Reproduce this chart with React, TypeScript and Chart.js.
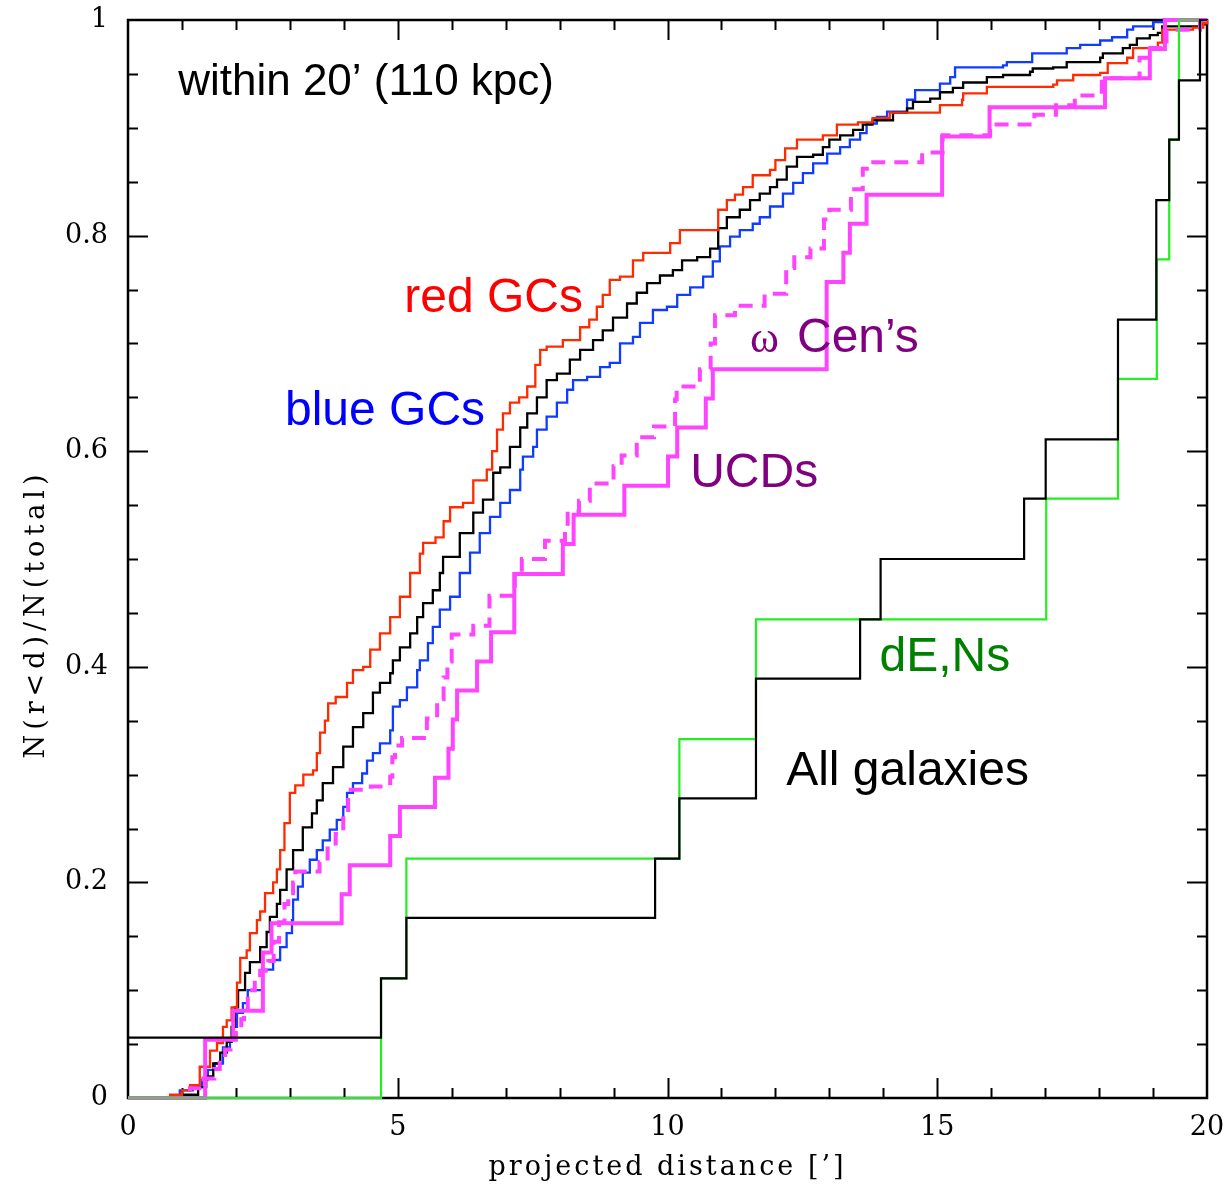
import React, { useEffect, useRef } from 'react';
import { Chart, registerables } from 'chart.js';

Chart.register(...registerables);

// ---- series: [projected distance (arcmin), cumulative fraction] ----
const redGCs: [number, number][] = [
  [0, 0], [0.78, 0.003], [1.0, 0.007], [1.15, 0.012], [1.33, 0.029], [1.52, 0.044], [1.65, 0.051], [1.76, 0.066],
  [1.83, 0.072], [1.92, 0.084], [2.02, 0.107], [2.08, 0.13], [2.2, 0.137], [2.26, 0.153], [2.39, 0.165], [2.45, 0.173],
  [2.54, 0.19], [2.69, 0.2], [2.76, 0.212], [2.82, 0.23], [2.9, 0.255], [3.0, 0.283], [3.1, 0.29], [3.25, 0.3],
  [3.43, 0.304], [3.5, 0.32], [3.56, 0.339], [3.65, 0.35], [3.71, 0.366], [3.85, 0.372], [4.06, 0.385], [4.17, 0.397],
  [4.36, 0.4], [4.49, 0.416], [4.67, 0.431], [4.86, 0.446], [5.04, 0.465], [5.23, 0.487], [5.41, 0.505], [5.47, 0.515],
  [5.7, 0.52], [5.85, 0.535], [5.97, 0.548], [6.21, 0.552], [6.4, 0.573], [6.65, 0.583], [6.75, 0.6], [6.84, 0.62],
  [6.95, 0.635], [7.08, 0.645], [7.25, 0.65], [7.4, 0.66], [7.55, 0.68], [7.64, 0.694], [7.76, 0.697], [8.06, 0.703],
  [8.38, 0.715], [8.55, 0.722], [8.69, 0.734], [8.8, 0.745], [8.93, 0.759], [9.12, 0.762], [9.36, 0.777], [9.55, 0.784],
  [10.05, 0.793], [10.23, 0.805], [10.94, 0.824], [11.1, 0.833], [11.25, 0.838], [11.4, 0.845], [11.58, 0.856],
  [11.9, 0.861], [12.0, 0.87], [12.18, 0.881], [12.4, 0.889], [12.88, 0.893], [13.14, 0.903], [13.53, 0.905],
  [13.8, 0.909], [14.12, 0.914], [15.05, 0.921], [15.46, 0.926], [15.48, 0.932], [15.92, 0.938], [17.15, 0.94],
  [17.22, 0.944], [17.52, 0.949], [18.02, 0.951], [18.16, 0.96], [18.52, 0.965], [18.63, 0.974], [19.09, 0.979],
  [19.17, 0.991], [19.74, 0.993], [19.93, 0.997], [20, 1.0],
];

const allGCs: [number, number][] = [
  [0, 0], [1.0, 0.003], [1.3, 0.01], [1.45, 0.02], [1.58, 0.032], [1.71, 0.042], [1.83, 0.052], [1.92, 0.066],
  [1.98, 0.084], [2.04, 0.1], [2.17, 0.116], [2.26, 0.126], [2.45, 0.14], [2.57, 0.154], [2.63, 0.168], [2.76, 0.18],
  [2.82, 0.193], [2.94, 0.212], [3.06, 0.23], [3.24, 0.251], [3.41, 0.264], [3.5, 0.276], [3.61, 0.292], [3.8, 0.307],
  [3.99, 0.326], [4.17, 0.344], [4.36, 0.357], [4.54, 0.376], [4.67, 0.385], [4.86, 0.394], [4.91, 0.406], [5.04, 0.418],
  [5.23, 0.431], [5.36, 0.446], [5.47, 0.459], [5.65, 0.471], [5.78, 0.487], [5.84, 0.502], [6.15, 0.524], [6.4, 0.543],
  [6.58, 0.555], [6.77, 0.58], [6.9, 0.585], [7.08, 0.604], [7.27, 0.622], [7.4, 0.635], [7.58, 0.65], [7.76, 0.666],
  [7.95, 0.672], [8.19, 0.685], [8.38, 0.694], [8.62, 0.703], [8.8, 0.712], [8.99, 0.724], [9.25, 0.737], [9.43, 0.747],
  [9.62, 0.756], [9.86, 0.763], [10.1, 0.768], [10.27, 0.777], [10.55, 0.78], [10.79, 0.788], [10.94, 0.807],
  [11.1, 0.817], [11.34, 0.824], [11.53, 0.833], [11.71, 0.839], [11.9, 0.845], [12.03, 0.852], [12.21, 0.864],
  [12.4, 0.873], [12.7, 0.875], [12.88, 0.882], [13.0, 0.889], [13.2, 0.893], [13.44, 0.898], [13.62, 0.903],
  [13.8, 0.907], [14.18, 0.914], [14.44, 0.918], [14.55, 0.924], [14.87, 0.927], [15.05, 0.933], [15.29, 0.937],
  [15.48, 0.942], [15.92, 0.947], [16.22, 0.949], [16.72, 0.952], [16.77, 0.955], [17.15, 0.956], [17.4, 0.961],
  [18.02, 0.965], [18.07, 0.969], [18.44, 0.974], [18.57, 0.977], [18.7, 0.983], [18.94, 0.986], [19.09, 0.988],
  [19.17, 0.994], [19.87, 0.996], [20, 1.0],
];

const blueGCs: [number, number][] = [
  [0, 0], [0.96, 0.007], [1.2, 0.01], [1.37, 0.017], [1.48, 0.026], [1.61, 0.032], [1.76, 0.047], [1.89, 0.054],
  [1.95, 0.066], [2.02, 0.079], [2.13, 0.088], [2.22, 0.1], [2.5, 0.119], [2.69, 0.128], [2.82, 0.14], [2.94, 0.153],
  [3.04, 0.165], [3.06, 0.184], [3.15, 0.196], [3.24, 0.209], [3.37, 0.221], [3.5, 0.23], [3.61, 0.239], [3.74, 0.249],
  [3.87, 0.258], [3.99, 0.27], [4.06, 0.283], [4.17, 0.292], [4.34, 0.301], [4.43, 0.313], [4.54, 0.32], [4.67, 0.329],
  [4.86, 0.341], [4.91, 0.363], [5.04, 0.369], [5.17, 0.381], [5.36, 0.397], [5.41, 0.406], [5.56, 0.422], [5.65, 0.437],
  [5.78, 0.453], [5.97, 0.465], [6.15, 0.487], [6.34, 0.506], [6.52, 0.524], [6.71, 0.539], [6.9, 0.552], [7.08, 0.564],
  [7.27, 0.583], [7.32, 0.595], [7.51, 0.604], [7.58, 0.62], [7.76, 0.632], [7.95, 0.645], [8.14, 0.657], [8.25, 0.666],
  [8.51, 0.669], [8.75, 0.678], [8.93, 0.682], [9.12, 0.7], [9.36, 0.706], [9.49, 0.719], [9.73, 0.731], [9.99, 0.734],
  [10.18, 0.745], [10.42, 0.752], [10.66, 0.762], [10.84, 0.776], [10.97, 0.79], [11.16, 0.799], [11.34, 0.805],
  [11.58, 0.811], [11.71, 0.817], [11.9, 0.827], [12.14, 0.839], [12.33, 0.849], [12.51, 0.858], [12.7, 0.867],
  [12.96, 0.876], [13.2, 0.882], [13.38, 0.889], [13.57, 0.895], [13.69, 0.904], [13.88, 0.91], [14.07, 0.915],
  [14.44, 0.926], [14.59, 0.935], [15.05, 0.941], [15.24, 0.947], [15.33, 0.956], [16.22, 0.958], [16.29, 0.961],
  [16.76, 0.969], [17.4, 0.974], [17.65, 0.977], [18.02, 0.981], [18.24, 0.984], [18.52, 0.991], [18.63, 0.994],
  [19.0, 0.998], [19.2, 1.0], [20, 1.0],
];

const omegaCens: [number, number][] = [
  [0, 0], [1.15, 0.009], [1.4, 0.018], [1.6, 0.027], [1.7, 0.036], [1.8, 0.045], [1.9, 0.054], [2.0, 0.064],
  [2.1, 0.073], [2.15, 0.082], [2.22, 0.1], [2.35, 0.109], [2.45, 0.118], [2.6, 0.127], [2.7, 0.145], [2.8, 0.163],
  [2.9, 0.18], [2.97, 0.19], [3.06, 0.2], [3.1, 0.21], [3.55, 0.219], [3.7, 0.236], [3.85, 0.245], [3.99, 0.264],
  [4.08, 0.286], [4.5, 0.289], [4.86, 0.298], [4.9, 0.316], [4.95, 0.327], [5.08, 0.334], [5.54, 0.352], [5.73, 0.37],
  [5.85, 0.39], [5.92, 0.405], [6.0, 0.43], [6.4, 0.438], [6.7, 0.466], [7.17, 0.49], [7.3, 0.5], [7.73, 0.517],
  [8.1, 0.53], [8.15, 0.544], [8.36, 0.554], [8.56, 0.57], [9.0, 0.586], [9.15, 0.596], [9.43, 0.613], [9.75, 0.623],
  [10.14, 0.648], [10.17, 0.66], [10.6, 0.676], [10.8, 0.7], [10.88, 0.726], [11.25, 0.735], [11.8, 0.746],
  [12.2, 0.77], [12.35, 0.78], [12.65, 0.788], [12.9, 0.815], [13.0, 0.824], [13.4, 0.843], [13.62, 0.862],
  [13.75, 0.868], [14.72, 0.877], [15.1, 0.893], [15.98, 0.903], [16.8, 0.912], [17.2, 0.921], [17.55, 0.93],
  [18.05, 0.946], [18.75, 0.965], [18.95, 0.974], [19.25, 0.991], [19.87, 1.0], [20, 1.0],
];

const ucds: [number, number][] = [
  [0, 0], [1.43, 0.054], [1.95, 0.081], [2.5, 0.135], [2.66, 0.162], [3.96, 0.189], [4.11, 0.216], [4.86, 0.243],
  [5.04, 0.27], [5.69, 0.297], [5.94, 0.324], [6.02, 0.351], [6.1, 0.378], [6.47, 0.405], [6.73, 0.432], [7.16, 0.486],
  [8.06, 0.514], [8.26, 0.541], [9.2, 0.568], [10.01, 0.595], [10.18, 0.622], [10.71, 0.649], [10.84, 0.676],
  [12.95, 0.757], [13.26, 0.784], [13.38, 0.811], [13.69, 0.838], [15.09, 0.892], [15.97, 0.919], [18.11, 0.946],
  [18.94, 0.973], [19.22, 1.0], [20, 1.0],
];

const dENs: [number, number][] = [
  [0, 0], [4.69, 0.111], [5.16, 0.222], [10.22, 0.333], [11.64, 0.444], [17.02, 0.556], [18.35, 0.667],
  [19.07, 0.778], [19.3, 0.889], [19.48, 1.0], [20, 1.0],
];

const allGalaxies: [number, number][] = [
  [0, 0.056], [4.69, 0.111], [5.16, 0.167], [9.77, 0.222], [10.22, 0.278], [11.64, 0.389], [13.57, 0.444],
  [13.95, 0.5], [16.61, 0.556], [17.01, 0.611], [18.35, 0.722], [19.06, 0.833], [19.3, 0.889], [19.48, 0.944],
  [19.87, 1.0], [20, 1.0],
];

// ---- axes ----
const xRange = [0, 20];
const yRange = [0, 1];
const xLabelStep = 5;
const yLabelStep = 0.2;
const xMinorStep = 1;
const yMinorStep = 0.05;

// ---- text annotations (data coordinates of left/baseline) ----
const annotations = [
  { text: 'within 20\u2019 (110 kpc)', x: 0.93, y: 0.930, color: '#000000', font: '44px "Liberation Sans", Arial, sans-serif' },
  { text: 'red GCs', x: 5.12, y: 0.729, color: '#ff0000', font: '48px "Liberation Sans", Arial, sans-serif' },
  { text: 'blue GCs', x: 2.91, y: 0.624, color: '#0000ff', font: '48px "Liberation Sans", Arial, sans-serif' },
  { text: '\u03c9', x: 11.53, y: 0.692, color: '#800080', font: '44px "Liberation Serif", serif' },
  { text: 'Cen\u2019s', x: 12.4, y: 0.692, color: '#800080', font: '48px "Liberation Sans", Arial, sans-serif' },
  { text: 'UCDs', x: 10.42, y: 0.567, color: '#800080', font: '48px "Liberation Sans", Arial, sans-serif' },
  { text: 'dE,Ns', x: 13.93, y: 0.396, color: '#008000', font: '48px "Liberation Sans", Arial, sans-serif' },
  { text: 'All galaxies', x: 12.2, y: 0.29, color: '#000000', font: '48px "Liberation Sans", Arial, sans-serif' },
];

const xTitle = 'projected distance [\u2019]';
const yTitle = 'N(r<d)/N(total)';

const AXIS_FONT = '"DejaVu Serif", "Liberation Serif", serif';

const framePlugin = {
  id: 'frameTicks',
  beforeDatasetsDraw(chart: any) {
    const { ctx, chartArea: a, scales } = chart;
    const xs = scales.x;
    const ys = scales.y;
    ctx.save();
    ctx.strokeStyle = '#000000';
    ctx.lineWidth = 2;
    ctx.lineCap = 'butt';
    ctx.beginPath();
    const nx = Math.round((xRange[1] - xRange[0]) / xMinorStep);
    for (let i = 1; i < nx; i++) {
      const v = xRange[0] + i * xMinorStep;
      const px = Math.round(xs.getPixelForValue(v)) + 0.5;
      const major = Math.abs(v / xLabelStep - Math.round(v / xLabelStep)) < 1e-6;
      const len = major ? 20 : 10;
      ctx.moveTo(px, a.bottom);
      ctx.lineTo(px, a.bottom - len);
      ctx.moveTo(px, a.top);
      ctx.lineTo(px, a.top + len);
    }
    const ny = Math.round((yRange[1] - yRange[0]) / yMinorStep);
    for (let i = 1; i < ny; i++) {
      const v = yRange[0] + i * yMinorStep;
      const py = Math.round(ys.getPixelForValue(v)) + 0.5;
      const major = Math.abs(v / yLabelStep - Math.round(v / yLabelStep)) < 1e-6;
      const len = major ? 20 : 10;
      ctx.moveTo(a.left, py);
      ctx.lineTo(a.left + len, py);
      ctx.moveTo(a.right, py);
      ctx.lineTo(a.right - len, py);
    }
    ctx.stroke();
    ctx.lineWidth = 2.5;
    ctx.strokeRect(a.left, a.top, a.right - a.left, a.bottom - a.top);
    ctx.restore();
  },
};

const textPlugin = {
  id: 'textLabels',
  afterDatasetsDraw(chart: any) {
    const { ctx, chartArea: a, scales } = chart;
    const xs = scales.x;
    const ys = scales.y;
    ctx.save();
    ctx.textAlign = 'left';
    ctx.textBaseline = 'alphabetic';
    for (const t of annotations) {
      ctx.font = t.font;
      ctx.fillStyle = t.color;
      ctx.fillText(t.text, xs.getPixelForValue(t.x), ys.getPixelForValue(t.y));
    }
    // axis titles
    ctx.fillStyle = '#000000';
    ctx.font = `27px ${AXIS_FONT}`;
    ctx.textAlign = 'center';
    (ctx as any).letterSpacing = '3px';
    ctx.fillText(xTitle, (a.left + a.right) / 2, 1175);
    (ctx as any).letterSpacing = '5px';
    ctx.translate(44, 614);
    ctx.rotate(-Math.PI / 2);
    ctx.fillText(yTitle, 0, 0);
    ctx.restore();
  },
};

function stepSeries(label: string, data: [number, number][], color: string, width: number, extra: any = {}) {
  return {
    label,
    data,
    borderColor: color,
    backgroundColor: color,
    borderWidth: width,
    pointRadius: 0,
    pointHoverRadius: 0,
    stepped: 'before',
    fill: false,
    clip: false,
    borderJoinStyle: 'miter',
    borderCapStyle: 'butt',
    ...extra,
  };
}

export default function App() {
  const canvasRef = useRef<HTMLCanvasElement | null>(null);

  useEffect(() => {
    const canvas = canvasRef.current;
    if (!canvas) return;
    const chart = new Chart(canvas, {
      type: 'line',
      data: {
        datasets: [
          stepSeries('All galaxies', allGalaxies, '#000000', 2.2),
          stepSeries('dE,Ns', dENs, '#22ee22', 2.2),
          stepSeries('UCDs', ucds, '#ff44ff', 4),
          stepSeries('\u03c9 Cen\u2019s', omegaCens, '#ff44ff', 4, { borderDash: [14, 9] }),
          stepSeries('red GCs', redGCs, '#ff2a00', 2.3),
          stepSeries('all GCs', allGCs, '#000000', 2.3),
          stepSeries('blue GCs', blueGCs, '#0f3cff', 2.3),
        ] as any,
      },
      options: {
        animation: false,
        responsive: false,
        maintainAspectRatio: false,
        devicePixelRatio: 1,
        events: [],
        layout: { padding: { top: 20, right: 22, left: 0, bottom: 0 } },
        plugins: {
          legend: { display: false },
          tooltip: { enabled: false },
          title: { display: false },
        },
        scales: {
          x: {
            type: 'linear',
            min: xRange[0],
            max: xRange[1],
            grid: { display: false, drawTicks: false },
            border: { display: false },
            ticks: {
              stepSize: xLabelStep,
              autoSkip: false,
              maxRotation: 0,
              padding: 14,
              color: '#000000',
              font: { family: AXIS_FONT, size: 27 },
            },
            afterFit: (s: any) => {
              s.height = 87;
              s.paddingLeft = 0;
              s.paddingRight = 0;
            },
          },
          y: {
            type: 'linear',
            min: yRange[0],
            max: yRange[1],
            grid: { display: false, drawTicks: false },
            border: { display: false },
            ticks: {
              stepSize: yLabelStep,
              autoSkip: false,
              padding: 20,
              color: '#000000',
              font: { family: AXIS_FONT, size: 27 },
              callback: (v: any) => String(Math.round(Number(v) * 10) / 10),
            },
            afterFit: (s: any) => {
              s.width = 128;
              s.paddingTop = 0;
              s.paddingBottom = 0;
            },
          },
        },
      } as any,
      plugins: [framePlugin, textPlugin],
    });
    return () => chart.destroy();
  }, []);

  return (
    <div style={{ position: 'absolute', left: 0, top: 0, width: 1229, height: 1185, background: '#ffffff' }}>
      <canvas ref={canvasRef} width={1229} height={1185} style={{ width: 1229, height: 1185, display: 'block' }} />
    </div>
  );
}
